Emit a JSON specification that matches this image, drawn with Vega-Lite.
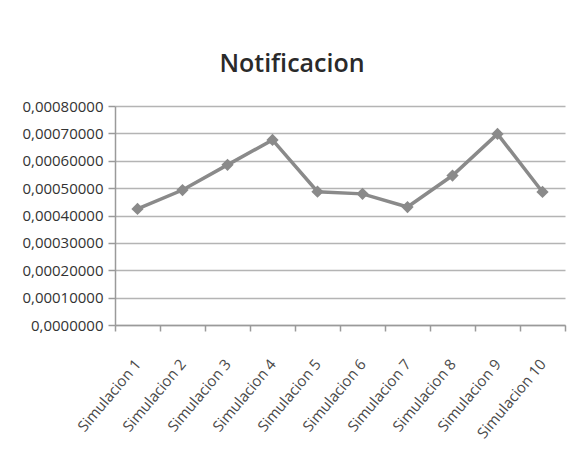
{
  "$schema": "https://vega.github.io/schema/vega-lite/v6.json",
  "autosize": {"type": "none"},
  "padding": {"left": 115, "top": 106, "right": 9, "bottom": 147},
  "width": 450,
  "height": 219,
  "background": "#ffffff",
  "config": {
    "view": {"stroke": null},
    "font": "Open Sans",
    "locale": {"number": {"decimal": ",", "thousands": ".", "grouping": [3], "currency": ["", ""]}}
  },
  "title": {
    "text": "Notificacion",
    "fontSize": 25,
    "fontWeight": 600,
    "font": "Open Sans",
    "color": "#2a2a2a",
    "anchor": "middle",
    "frame": "group",
    "dx": -48,
    "baseline": "alphabetic",
    "offset": 2
  },
  "data": {
    "values": [
      {"sim": "Simulacion 1", "value": 0.000424},
      {"sim": "Simulacion 2", "value": 0.000493},
      {"sim": "Simulacion 3", "value": 0.000585},
      {"sim": "Simulacion 4", "value": 0.000676},
      {"sim": "Simulacion 5", "value": 0.000487},
      {"sim": "Simulacion 6", "value": 0.000479},
      {"sim": "Simulacion 7", "value": 0.000431},
      {"sim": "Simulacion 8", "value": 0.000546},
      {"sim": "Simulacion 9", "value": 0.000698},
      {"sim": "Simulacion 10", "value": 0.000486}
    ]
  },
  "encoding": {
    "x": {
      "field": "sim",
      "type": "nominal",
      "sort": null,
      "bandPosition": 0.5,
      "scale": {"type": "band", "paddingInner": 0, "paddingOuter": 0},
      "axis": {
        "title": null,
        "tickBand": "extent",
        "grid": false,
        "labelAngle": -50,
        "labelAlign": "right",
        "labelBaseline": "middle",
        "labelFontSize": 15,
        "labelColor": "#4a4a4a",
        "labelPadding": 30,
        "tickSize": 6,
        "tickColor": "#9a9a9a",
        "domainColor": "#9a9a9a",
        "domainWidth": 1.5,
        "tickWidth": 1.5
      }
    },
    "y": {
      "field": "value",
      "type": "quantitative",
      "scale": {"domain": [0, 0.0008], "nice": false},
      "axis": {
        "title": null,
        "values": [0, 0.0001, 0.0002, 0.0003, 0.0004, 0.0005, 0.0006, 0.0007, 0.0008],
        "labelExpr": "datum.value == 0 ? '0,0000000' : format(datum.value, '.8f')",
        "labelFontSize": 15,
        "labelColor": "#333333",
        "labelPadding": 5,
        "tickSize": 7,
        "tickColor": "#9a9a9a",
        "tickWidth": 1.5,
        "domainColor": "#9a9a9a",
        "domainWidth": 1.5,
        "gridColor": "#b4b4b4",
        "gridWidth": 1.5
      }
    }
  },
  "layer": [
    {"mark": {"type": "line", "color": "#8a8a8a", "strokeWidth": 3.5}},
    {"mark": {"type": "point", "shape": "diamond", "filled": true, "size": 150, "color": "#8a8a8a", "opacity": 1}}
  ]
}
